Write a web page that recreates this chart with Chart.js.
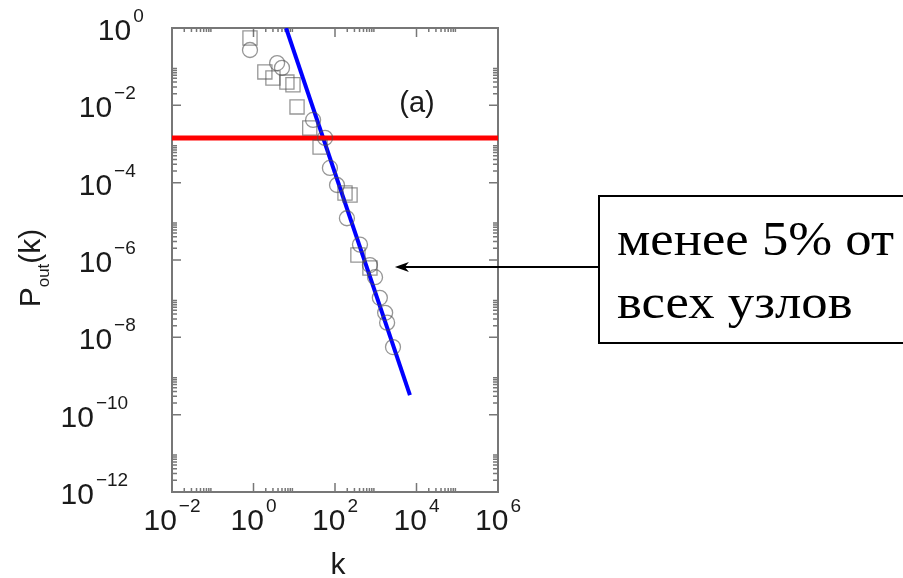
<!DOCTYPE html>
<html>
<head>
<meta charset="utf-8">
<script src="https://cdn.jsdelivr.net/npm/chart.js@4.4.1/dist/chart.umd.min.js"></script>
<style>
  body { margin: 0; background: #fff; }
  #wrap { width: 903px; height: 578px; position: relative; }
</style>
</head>
<body>
<div id="wrap"><canvas id="myChart"></canvas></div>
<script>
// data
const kSquares = [0.82, 1.9, 3.0, 6.6, 9.3, 11.7, 24, 43, 176, 234, 365, 720];
const pSquares = [0.55, 0.073, 0.051, 0.040, 0.034, 0.0091, 0.0026, 8.3e-4, 5.4e-5, 4.8e-5, 1.35e-6, 6.2e-7];

const kCircles = [0.82, 3.8, 5.0, 29, 57, 75, 112, 196, 410, 720, 960, 1260, 1700, 1900, 2650];
const pCircles = [0.27, 0.124, 0.093, 0.0042, 0.00144, 2.4e-4, 8.7e-5, 1.2e-5, 2.5e-6, 7.4e-7, 3.6e-7, 1.05e-7, 4.3e-8, 2.4e-8, 5.6e-9];

const fitK = [6.3, 6900];
const fitP = [1, 3.2e-10];

const cutK = [0.01, 1e6];
const cutP = [1.43e-3, 1.43e-3];

const xTickExp = [-2, 0, 2, 4, 6];
const yTickExp = [0, -2, -4, -6, -8, -10, -12];

const arrowTip = [2950, 6.6e-7];
const boxLines = ['менее 5% от', 'всех узлов'];
const panelLabel = '(a)';

function pts(xs, ys) {
  return xs.map((x, i) => ({ x: x, y: ys[i] }));
}

const axisFont = '"Liberation Sans", Arial, sans-serif';

function drawPow(ctx, exp, x, y, align) {
  // "10" with a raised exponent; y = vertical middle of the "10"
  const base = '10';
  const sup = exp < 0 ? '\u2212' + Math.abs(exp) : String(exp);
  ctx.font = '30px ' + axisFont;
  const wb = ctx.measureText(base).width;
  ctx.font = '19px ' + axisFont;
  const ws = ctx.measureText(sup).width;
  const total = wb + 2 + ws;
  let left = x;
  if (align === 'center') left = x - total / 2;
  if (align === 'right') left = x - 1.72 * ws; // y labels in the original drift left as exponents grow
  ctx.textAlign = 'left';
  ctx.textBaseline = 'alphabetic';
  ctx.font = '30px ' + axisFont;
  ctx.fillText(base, left, y + 11);
  ctx.font = '19px ' + axisFont;
  ctx.fillText(sup, left + wb + 2, y - 7);
}

const extras = {
  id: 'extras',
  beforeDatasetsDraw(chart) {
    const ctx = chart.ctx;
    const a = chart.chartArea;
    const xs = chart.scales.x, ys = chart.scales.y;
    ctx.save();
    ctx.strokeStyle = '#777';
    ctx.lineWidth = 1.5;
    // ticks on all four sides, pointing inward; minors only in even decades
    for (let e = -2; e <= 6; e += 2) {
      for (let m = 1; m <= 9; m++) {
        const v = m * Math.pow(10, e);
        if (v > 1e6) break;
        const px = xs.getPixelForValue(v);
        const len = m === 1 ? 9 : 4;
        ctx.beginPath();
        ctx.moveTo(px, a.bottom); ctx.lineTo(px, a.bottom - len);
        ctx.moveTo(px, a.top); ctx.lineTo(px, a.top + len);
        ctx.stroke();
      }
    }
    for (let e = -12; e <= 0; e += 2) {
      for (let m = 1; m <= 9; m++) {
        const v = m * Math.pow(10, e);
        if (v > 1) break;
        const py = ys.getPixelForValue(v);
        const len = m === 1 ? 9 : 5;
        ctx.beginPath();
        ctx.moveTo(a.left, py); ctx.lineTo(a.left + len, py);
        ctx.moveTo(a.right, py); ctx.lineTo(a.right - len, py);
        ctx.stroke();
      }
    }
    ctx.lineWidth = 2;
    ctx.strokeRect(a.left, a.top, a.right - a.left, a.bottom - a.top);
    ctx.restore();
  },
  afterDraw(chart) {
    const ctx = chart.ctx;
    const xs = chart.scales.x, ys = chart.scales.y;
    ctx.save();
    ctx.fillStyle = '#1a1a1a';
    xTickExp.forEach(e => drawPow(ctx, e, xs.getPixelForValue(Math.pow(10, e)), 519, 'center'));
    yTickExp.forEach(e => drawPow(ctx, e, 116, ys.getPixelForValue(Math.pow(10, e)) + 1, 'right'));

    // axis titles
    ctx.font = '30px ' + axisFont;
    ctx.textAlign = 'center';
    ctx.textBaseline = 'alphabetic';
    ctx.fillText('k', 338, 574);

    ctx.save();
    ctx.translate(40, 268);
    ctx.rotate(-Math.PI / 2);
    ctx.textAlign = 'left';
    ctx.font = '30px ' + axisFont;
    const wP = ctx.measureText('P').width;
    ctx.font = '17px ' + axisFont;
    const wSub = ctx.measureText('out').width;
    ctx.font = '30px ' + axisFont;
    const wK = ctx.measureText('(k)').width;
    let x0 = -(wP + wSub + wK) / 2;
    ctx.fillText('P', x0, 0);
    ctx.font = '17px ' + axisFont;
    ctx.fillText('out', x0 + wP, 9);
    ctx.font = '30px ' + axisFont;
    ctx.fillText('(k)', x0 + wP + wSub, 0);
    ctx.restore();

    // panel label
    ctx.font = '29px ' + axisFont;
    ctx.textAlign = 'center';
    ctx.textBaseline = 'middle';
    ctx.fillText(panelLabel, 417, 104);

    // annotation box with arrow
    ctx.strokeStyle = '#000';
    ctx.fillStyle = '#000';
    ctx.lineWidth = 2;
    ctx.strokeRect(599, 196, 320, 147);
    const tx = xs.getPixelForValue(arrowTip[0]);
    const ty = ys.getPixelForValue(arrowTip[1]);
    ctx.beginPath();
    ctx.moveTo(599, ty);
    ctx.lineTo(tx + 8, ty);
    ctx.stroke();
    ctx.beginPath();
    ctx.moveTo(tx, ty);
    ctx.lineTo(tx + 14, ty - 5);
    ctx.lineTo(tx + 10, ty);
    ctx.lineTo(tx + 14, ty + 5);
    ctx.closePath();
    ctx.fill();

    // the slide text is a little stretched sideways
    ctx.font = '48px "Liberation Serif", "Times New Roman", serif';
    ctx.textAlign = 'left';
    ctx.textBaseline = 'alphabetic';
    const sx = 277 / ctx.measureText(boxLines[0]).width;
    ctx.save();
    ctx.translate(617, 0);
    ctx.scale(sx, 1);
    ctx.fillText(boxLines[0], 0, 255);
    ctx.fillText(boxLines[1], 0, 318);
    ctx.restore();
    ctx.restore();
  }
};

const ctx = document.getElementById('myChart').getContext('2d');
const myChart = new Chart(ctx, {
  type: 'scatter',
  data: {
    datasets: [
      {
        label: 'squares',
        data: pts(kSquares, pSquares),
        pointStyle: 'rect',
        pointRadius: 10,
        backgroundColor: 'rgba(0,0,0,0)',
        borderColor: 'rgba(80,80,80,0.6)',
        borderWidth: 1.3
      },
      {
        label: 'circles',
        data: pts(kCircles, pCircles),
        pointStyle: 'circle',
        pointRadius: 7.5,
        backgroundColor: 'rgba(0,0,0,0)',
        borderColor: 'rgba(80,80,80,0.6)',
        borderWidth: 1.3
      },
      {
        label: 'cutoff',
        type: 'line',
        data: pts(cutK, cutP),
        borderColor: '#ff0000',
        borderWidth: 5,
        pointRadius: 0
      },
      {
        label: 'fit',
        type: 'line',
        data: pts(fitK, fitP),
        borderColor: '#0000ff',
        borderWidth: 4,
        pointRadius: 0
      }
    ]
  },
  options: {
    responsive: true,
    maintainAspectRatio: false,
    animation: false,
    layout: { padding: { left: 172, top: 28, right: 405, bottom: 86 } },
    plugins: { legend: { display: false }, tooltip: { enabled: false } },
    scales: {
      x: { type: 'logarithmic', min: 0.01, max: 1e6, display: false },
      y: { type: 'logarithmic', min: 1e-12, max: 1, display: false }
    }
  },
  plugins: [extras]
});
</script>
</body>
</html>
